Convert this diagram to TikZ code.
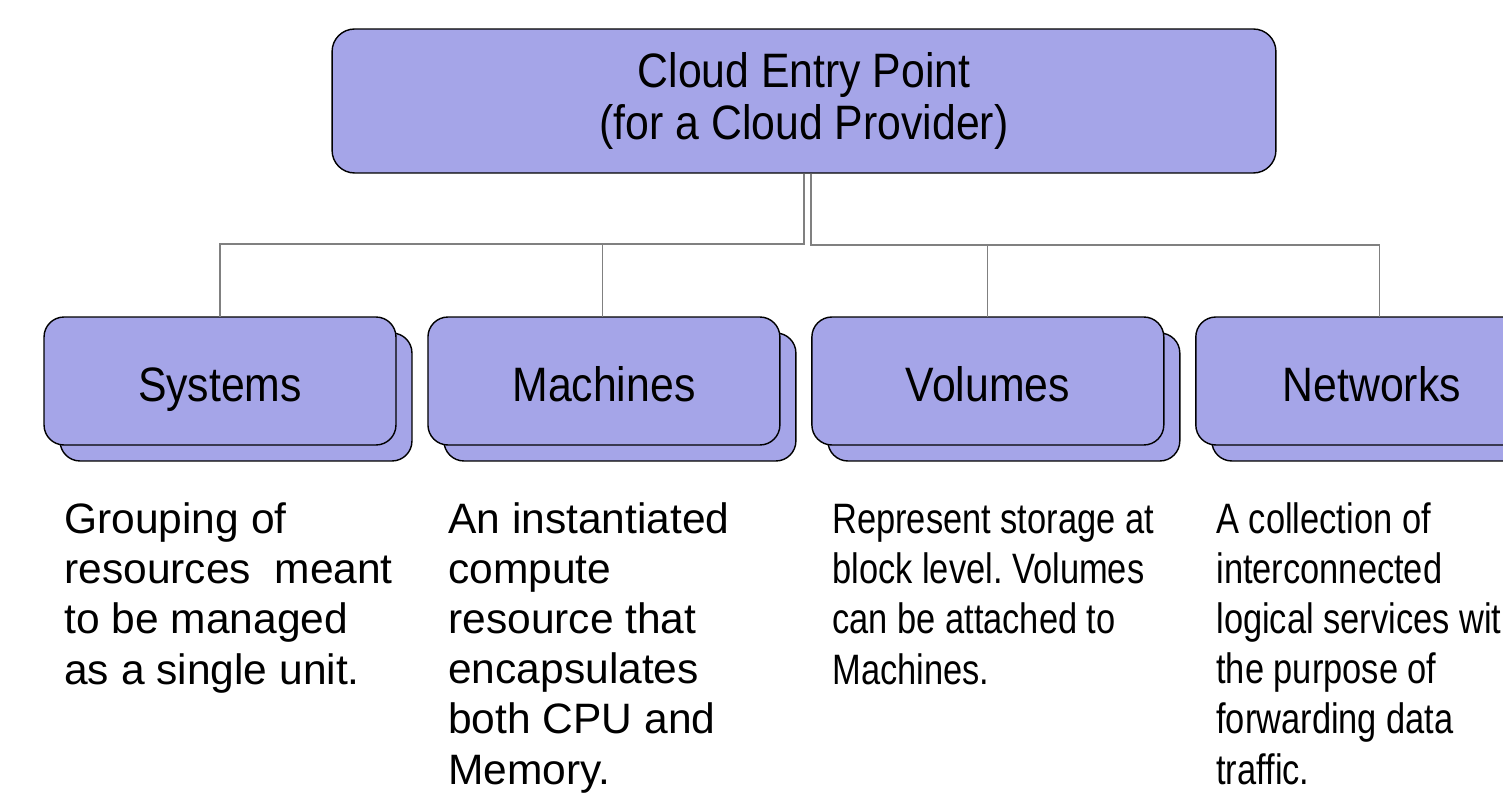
\documentclass[tikz,border=0pt]{standalone}
\usepackage{fontspec}
\setmainfont{Liberation Sans}
\newfontfamily\titlefont[FakeStretch = 0.885]{Liberation Sans}
\newfontfamily\narrowfont[FakeStretch = 0.81]{Liberation Sans}
\usetikzlibrary{positioning}
\usetikzlibrary{shadows}
\definecolor{boxblue}{RGB}{165, 165, 232}
\frenchspacing

\begin{document}
\begin{tikzpicture}[x = 0.02cm, y = -0.02cm,
	topbox/.style = {draw = black, line width = 0.8pt, fill = boxblue, rounded corners = 0.45cm, minimum width = 18.88cm, minimum height = 2.88cm, align = center, font = \titlefont\fontsize{27.5}{29.6}\selectfont},
	kindbox/.style = {draw = black, line width = 0.8pt, outer sep = 0pt, fill = boxblue, rounded corners = 0.4cm, minimum width = 7.04cm, minimum height = 2.56cm, text height = 22.8pt, text depth = 0pt, font = \titlefont\fontsize{27.5}{33}\selectfont, general shadow = {draw = black, line width = 0.8pt, fill = boxblue, shadow xshift = 0.32cm, shadow yshift = -0.32cm}},
	link/.style = {draw = gray, line width = 0.6pt},
	desc/.style = {anchor = base west, inner sep = 0pt, align = left, font = \fontsize{24.2}{28.5}\selectfont},
	narrowdesc/.style = {desc, font = \narrowfont\fontsize{24.2}{28.5}\selectfont}]
	\clip (0, 0) rectangle (1503, 793);
	% entry point and the four kinds of resource
	\node [topbox] (cloud) at (804, 101) {Cloud Entry Point\\(for a Cloud Provider)};
	\node [kindbox] (systems) at (220, 381) {Systems};
	\node [kindbox, right = 0.64cm of systems] (machines) {Machines};
	\node [kindbox, right = 0.64cm of machines] (volumes) {Volumes};
	\node [kindbox, right = 0.64cm of volumes] (networks) {Networks};
	% connectors
	\coordinate (leftdrop) at (804, 244);
	\coordinate (rightdrop) at (811, 245);
	\draw [link] (cloud.south -| leftdrop) -- (leftdrop) -| (systems.north);
	\draw [link] (leftdrop) -| ([xshift = -0.02cm] machines.north);
	\draw [link] (cloud.south -| rightdrop) -- (rightdrop) -| (volumes.north);
	\draw [link] (rightdrop) -| ([xshift = 0.16cm] networks.north);
	% descriptions (placed by the baseline of their last line)
	\node [desc] (systemstext) at (64, 684) {Grouping of\\resources~ meant\\to be managed\\as a single unit.};
	\node [desc] (machinestext) at (448, 784) {An instantiated\\compute\\resource that\\encapsulates\\both CPU and\\Memory.};
	\node [narrowdesc] (volumestext) at (832, 684) {Represent storage at\\block level. Volumes\\can be attached to\\Machines.};
	\node [narrowdesc] (networkstext) at (1216, 784) {A collection of\\interconnected\\logical services with\\the purpose of\\forwarding data\\traffic.};
\end{tikzpicture}
\end{document}
